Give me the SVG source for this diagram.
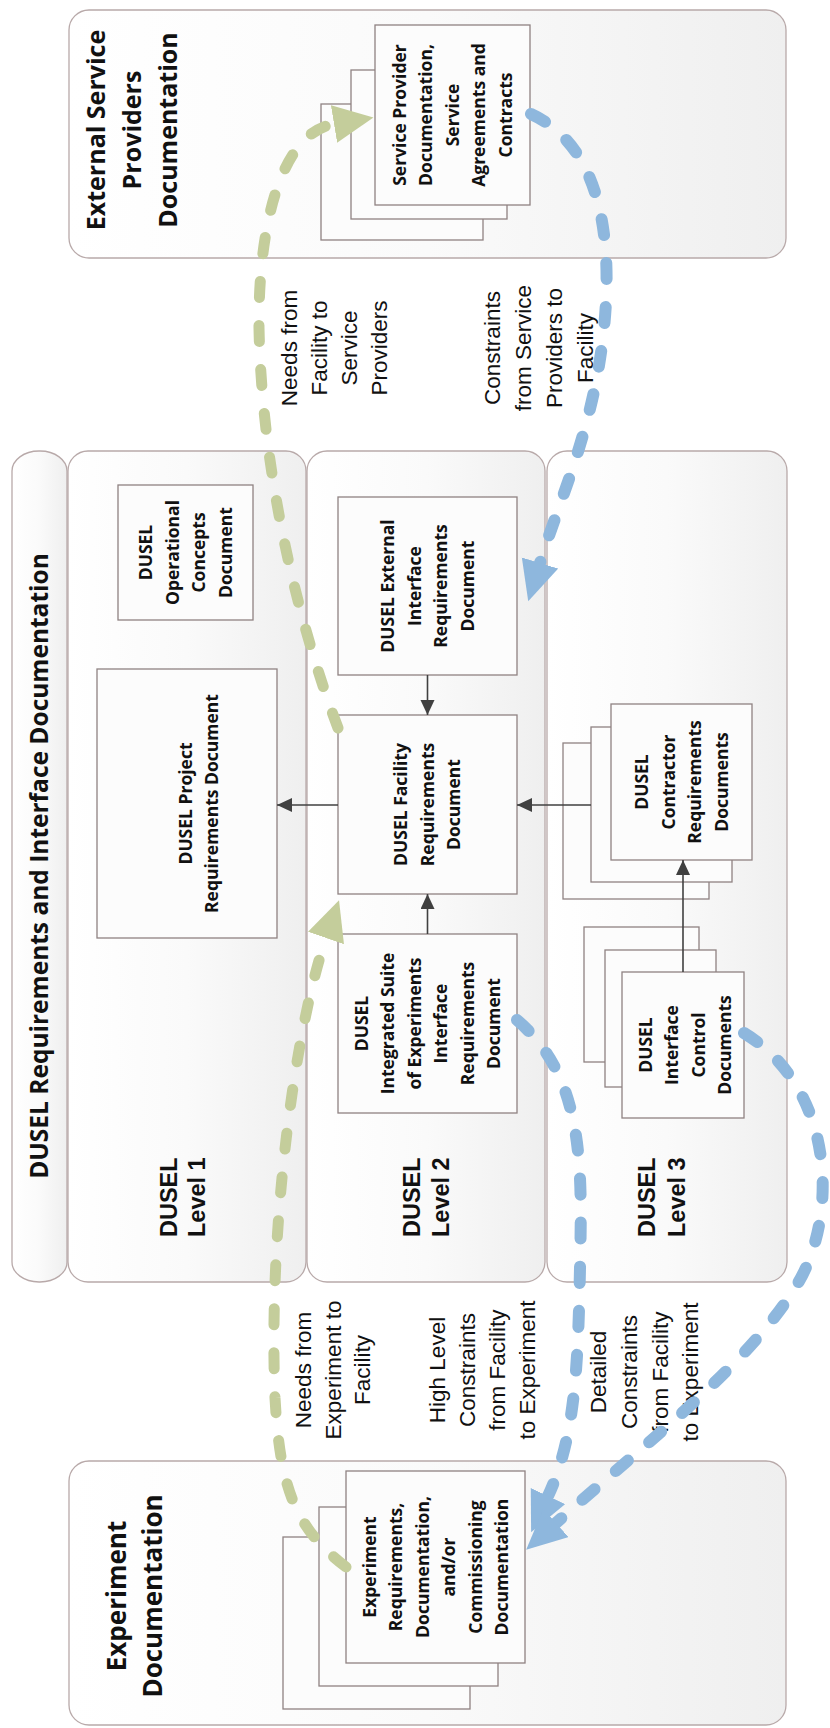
<svg xmlns="http://www.w3.org/2000/svg" width="830" height="1728" viewBox="0 0 830 1728">
<defs>
<linearGradient id="gOuter" x1="0" y1="0" x2="0" y2="1">
<stop offset="0" stop-color="#ffffff"/>
<stop offset="0.5" stop-color="#fafafa"/>
<stop offset="1" stop-color="#efefef"/>
</linearGradient>
<marker id="ah" markerUnits="userSpaceOnUse" markerWidth="16" markerHeight="16" refX="15" refY="7" orient="auto">
<path d="M0,0 L15,7 L0,14 Z" fill="#404040"/>
</marker>
<marker id="ag" markerUnits="userSpaceOnUse" markerWidth="42" markerHeight="40" refX="0" refY="19" orient="auto">
<path d="M0,0 L40,19 L0,38 Z" fill="#c4cd9b"/>
</marker>
<marker id="ab" markerUnits="userSpaceOnUse" markerWidth="42" markerHeight="40" refX="0" refY="19" orient="auto">
<path d="M0,0 L40,19 L0,38 Z" fill="#8eb7dd"/>
</marker>
<style>
.outer{fill:url(#gOuter);stroke:#b8a9a9;stroke-width:1.3}
.doc{fill:#fcfcfc;stroke:#8f8282;stroke-width:1.3}
.bt{font-family:"Open Sans","DejaVu Sans",sans-serif;font-weight:700;font-size:17.5px;fill:#111;text-anchor:middle}
.hd{font-family:"Open Sans","DejaVu Sans",sans-serif;font-weight:700;font-size:25px;fill:#111;text-anchor:middle}
.lv{font-family:"Liberation Sans",Arial,sans-serif;font-weight:700;font-size:23.5px;fill:#111}
.lb{font-family:"Liberation Sans",Arial,sans-serif;font-size:22.5px;fill:#111;text-anchor:middle}
.arr{stroke:#404040;stroke-width:1.6;fill:none;marker-end:url(#ah)}
.gd{stroke:#c4cd9b;stroke-width:11;fill:none;stroke-dasharray:16 28;stroke-linecap:round;marker-end:url(#ag)}
.bd{stroke:#8eb7dd;stroke-width:12;fill:none;stroke-dasharray:16 28;stroke-linecap:round;marker-end:url(#ab)}
</style>
</defs>
<rect width="830" height="1728" fill="#ffffff"/>
<g transform="translate(0,1728) rotate(-90)">
<g id="esp">
<rect class="outer" x="1470" y="69" width="248" height="717" rx="20"/>
<text class="hd"><tspan x="1598" y="105">External Service</tspan><tspan x="1598" y="141">Providers</tspan><tspan x="1598" y="177">Documentation</tspan></text>
</g>
<g id="title">
<rect class="outer" x="446" y="12" width="831" height="55" rx="20" ry="27"/>
<text class="hd" x="862" y="48" style="font-size:24.5px">DUSEL Requirements and Interface Documentation</text>
</g>
<g id="level1">
<rect class="outer" x="446" y="68" width="831" height="238" rx="20"/>
<text class="lv"><tspan x="491" y="177">DUSEL</tspan><tspan x="491" y="205">Level 1</tspan></text>
</g>
<g id="level2">
<rect class="outer" x="446" y="307" width="831" height="238" rx="20"/>
<text class="lv"><tspan x="491" y="420">DUSEL</tspan><tspan x="491" y="449">Level 2</tspan></text>
</g>
<g id="level3">
<rect class="outer" x="446" y="547" width="831" height="240" rx="20"/>
<text class="lv"><tspan x="491" y="655">DUSEL</tspan><tspan x="491" y="685">Level 3</tspan></text>
</g>
<g id="exp">
<rect class="outer" x="3" y="69" width="264" height="717" rx="20"/>
<text class="hd" style="font-size:26px"><tspan x="132" y="126">Experiment</tspan><tspan x="132" y="162">Documentation</tspan></text>
</g>
<g id="operational">
<rect class="doc" x="1108" y="118" width="135" height="135"/>
<text class="bt"><tspan x="1175.5" y="152">DUSEL</tspan><tspan x="1175.5" y="178.5">Operational</tspan><tspan x="1175.5" y="205">Concepts</tspan><tspan x="1175.5" y="231.5">Document</tspan></text>
</g>
<g id="project">
<rect class="doc" x="790" y="97" width="269" height="180"/>
<text class="bt"><tspan x="924.5" y="192.3">DUSEL Project</tspan><tspan x="924.5" y="218.3">Requirements Document</tspan></text>
</g>
<g id="external">
<rect class="doc" x="1053" y="338" width="178" height="179"/>
<text class="bt"><tspan x="1142" y="394">DUSEL External</tspan><tspan x="1142" y="420.5">Interface</tspan><tspan x="1142" y="447">Requirements</tspan><tspan x="1142" y="473.5">Document</tspan></text>
</g>
<g id="facility">
<rect class="doc" x="834" y="338" width="179" height="179"/>
<text class="bt"><tspan x="923.5" y="407.3">DUSEL Facility</tspan><tspan x="923.5" y="433.8">Requirements</tspan><tspan x="923.5" y="460.3">Document</tspan></text>
</g>
<g id="integrated">
<rect class="doc" x="615" y="338" width="179" height="179"/>
<text class="bt"><tspan x="704.5" y="367.5">DUSEL</tspan><tspan x="704.5" y="394">Integrated Suite</tspan><tspan x="704.5" y="420.5">of Experiments</tspan><tspan x="704.5" y="447">Interface</tspan><tspan x="704.5" y="473.5">Requirements</tspan><tspan x="704.5" y="500">Document</tspan></text>
</g>
<g id="contractor">
<rect class="doc" x="829" y="563" width="156" height="146"/>
<rect class="doc" x="846" y="591" width="155" height="141"/>
<rect class="doc" x="868" y="611" width="156" height="141"/>
<text class="bt"><tspan x="946" y="648">DUSEL</tspan><tspan x="946" y="674.5">Contractor</tspan><tspan x="946" y="701">Requirements</tspan><tspan x="946" y="727.5">Documents</tspan></text>
</g>
<g id="icd">
<rect class="doc" x="666" y="584" width="135" height="115"/>
<rect class="doc" x="641" y="605" width="137" height="111"/>
<rect class="doc" x="610" y="622" width="146" height="122"/>
<text class="bt"><tspan x="683" y="651.5">DUSEL</tspan><tspan x="683" y="678">Interface</tspan><tspan x="683" y="704.5">Control</tspan><tspan x="683" y="731">Documents</tspan></text>
</g>
<g id="espdocs">
<rect class="doc" x="1488" y="321" width="136" height="162"/>
<rect class="doc" x="1509" y="351" width="149" height="156"/>
<rect class="doc" x="1523" y="375" width="180" height="155"/>
<text class="bt"><tspan x="1613" y="405.8">Service Provider</tspan><tspan x="1613" y="432.3">Documentation,</tspan><tspan x="1613" y="458.8">Service</tspan><tspan x="1613" y="485.3">Agreements and</tspan><tspan x="1613" y="511.8">Contracts</tspan></text>
</g>
<g id="expdocs">
<rect class="doc" x="19" y="283" width="172" height="187"/>
<rect class="doc" x="42" y="319" width="179" height="179"/>
<rect class="doc" x="65" y="346" width="192" height="179"/>
<text class="bt"><tspan x="161" y="375.5">Experiment</tspan><tspan x="161" y="402">Requirements,</tspan><tspan x="161" y="428.5">Documentation,</tspan><tspan x="161" y="455">and/or</tspan><tspan x="161" y="481.5">Commissioning</tspan><tspan x="161" y="508">Documentation</tspan></text>
</g>
<g id="labels">
<text class="lb"><tspan x="1380" y="297.4">Needs from</tspan><tspan x="1380" y="327.4">Facility to</tspan><tspan x="1380" y="357.4">Service</tspan><tspan x="1380" y="387.4">Providers</tspan></text>
<text class="lb"><tspan x="1380" y="500.4">Constraints</tspan><tspan x="1380" y="531.4">from Service</tspan><tspan x="1380" y="562.4">Providers to</tspan><tspan x="1380" y="593.4">Facility</tspan></text>
<text class="lb"><tspan x="358" y="311">Needs from</tspan><tspan x="358" y="340.5">Experiment to</tspan><tspan x="358" y="370">Facility</tspan></text>
<text class="lb"><tspan x="358" y="445">High Level</tspan><tspan x="358" y="475">Constraints</tspan><tspan x="358" y="505">from Facility</tspan><tspan x="358" y="535">to Experiment</tspan></text>
<text class="lb"><tspan x="356" y="606.4">Detailed</tspan><tspan x="356" y="637">Constraints</tspan><tspan x="356" y="667.5">from Facility</tspan><tspan x="356" y="698">to Experiment</tspan></text>
</g>
<g id="connectors">
<path class="arr" d="M1053,427.5 L1013,427.5"/>
<path class="arr" d="M794,427.5 L834,427.5"/>
<path class="arr" d="M923,338 L923,277"/>
<path class="arr" d="M923,591 L923,517"/>
<path class="arr" d="M756,683 L868,683"/>
<path class="gd" d="M161,346 C200,295 240,280 330,275 C500,268 700,295 790,326"/>
<path class="gd" d="M1000,338 C1100,300 1250,262 1400,259 C1500,258 1595,280 1604,334"/>
<path class="bd" d="M1614,531 C1580,605 1480,612 1400,604 C1300,594 1230,560 1165,540"/>
<path class="bd" d="M708,517 C650,585 560,582 460,580 C360,578 290,575 232,548"/>
<path class="bd" d="M695,744 C640,835 510,840 440,795 C360,745 280,640 205,556"/>
</g>
</g>
</svg>
